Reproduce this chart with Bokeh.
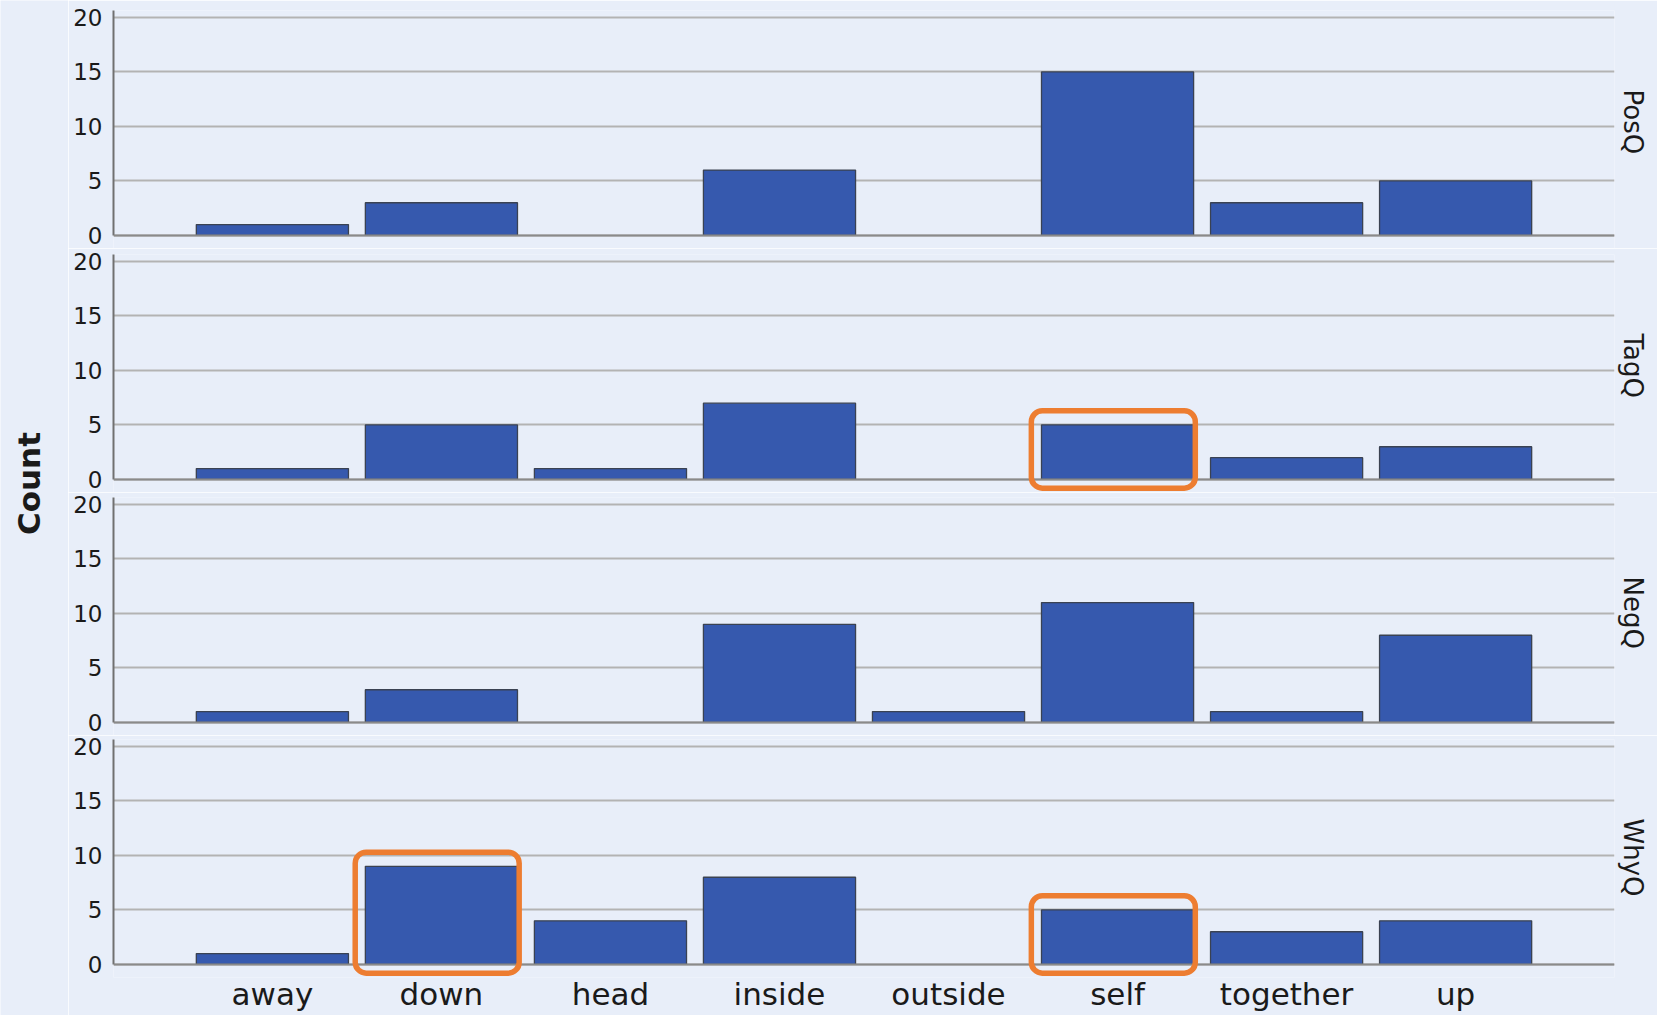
import math
from bokeh.plotting import figure
from bokeh.models import (FactorRange, Range1d, FixedTicker, Span,
                          BoxAnnotation, Title, ColumnDataSource)
from bokeh.layouts import column, row
from bokeh.embed import file_html
from bokeh.resources import INLINE
from bokeh.core.properties import value

# ---- data ----
categories = ["away", "down", "head", "inside", "outside", "self", "together", "up"]
panel_names = ["PosQ", "TagQ", "NegQ", "WhyQ"]
posq = [1, 3, 0, 6, 0, 15, 3, 5]
tagq = [1, 5, 1, 7, 0, 5, 2, 3]
negq = [1, 3, 0, 9, 1, 11, 1, 8]
whyq = [1, 9, 4, 8, 0, 5, 3, 4]
series = [posq, tagq, negq, whyq]
y_ticks = [0, 5, 10, 15, 20]
highlights = [("TagQ", "self"), ("WhyQ", "down"), ("WhyQ", "self")]
y_label = "Count"

# ---- style ----
BG = "#E8EEF9"
BAR = "#3659AE"
BAR_LINE = "#3a4252"
GRID = "#B3B3B3"
AXIS = "#707070"
ORANGE = "#ED7D31"
TEXT = "#1a1a1a"
FONT = "DejaVu Sans"

border_tops = [10, 6, 5, 4]
panels = []
n = len(panel_names)
for i, (name, counts) in enumerate(zip(panel_names, series)):
    last = (i == n - 1)
    p = figure(
        x_range=FactorRange(factors=categories, range_padding=0.44,
                            range_padding_units="absolute"),
        y_range=Range1d(-1.2, 20.64),
        frame_width=1501, frame_height=238,
        output_backend="svg", toolbar_location=None,
        x_axis_location="below" if last else None,
        background_fill_color=BG, border_fill_color=BG,
        outline_line_color=None,
        min_border_left=45, min_border_right=43,
        min_border_top=border_tops[i],
        min_border_bottom=(38 if last else 0),
    )
    cats_nz = [c for c, v in zip(categories, counts) if v > 0]
    vals_nz = [v for v in counts if v > 0]
    src = ColumnDataSource(dict(cat=cats_nz, count=vals_nz))
    p.vbar(x="cat", top="count", bottom=0, width=0.9, source=src,
           fill_color=BAR, line_color=BAR_LINE, line_width=1.3)

    p.add_layout(Span(location=0, dimension="width", line_color="#8a8a8a",
                      line_width=2))

    p.yaxis.ticker = FixedTicker(ticks=y_ticks)
    p.yaxis.bounds = (0, 20.64)
    p.yaxis.axis_line_color = AXIS
    p.yaxis.axis_line_width = 2
    p.yaxis.major_tick_line_color = None
    p.yaxis.minor_tick_line_color = None
    p.yaxis.major_label_text_font_size = "23px"
    p.yaxis.major_label_text_font = FONT
    p.yaxis.major_label_text_color = TEXT
    p.yaxis.major_label_standoff = 5

    p.ygrid.ticker = FixedTicker(ticks=y_ticks)
    p.ygrid.grid_line_color = GRID
    p.ygrid.grid_line_width = 2
    p.xgrid.grid_line_color = None

    if last:
        p.xaxis.axis_line_color = None
        p.xaxis.major_tick_line_color = None
        p.xaxis.minor_tick_line_color = None
        p.xaxis.major_label_text_font_size = "31px"
        p.xaxis.major_label_text_font = FONT
        p.xaxis.major_label_text_color = TEXT
        p.xaxis.major_label_standoff = -8

    p.add_layout(Title(text=name, text_font_size="26px", text_font=FONT,
                       text_font_style="normal", text_color=TEXT,
                       align="left", standoff=6, offset=79), "right")

    for pname, cat in highlights:
        if pname == name:
            idx = categories.index(cat)
            v = counts[idx]
            p.add_layout(BoxAnnotation(
                left=idx + 0.5 - 0.51, right=idx + 0.5 + 0.46,
                bottom=-0.8, top=v + 1.3,
                fill_alpha=0, line_color=ORANGE, line_alpha=1.0,
                line_width=5.5, border_radius=11, level="overlay"))
    panels.append(p)

cf = figure(width=68, height=1015, x_range=Range1d(0, 68), y_range=Range1d(0, 1015),
            output_backend="svg", toolbar_location=None,
            x_axis_location=None, y_axis_location=None, min_border=0,
            outline_line_color=None, background_fill_color=BG,
            border_fill_color=BG)
cf.grid.visible = False
cf.text(x=[28], y=[532], text=[y_label], angle=math.pi / 2,
        text_align="center", text_baseline="middle",
        text_font=value(FONT), text_font_style="bold",
        text_font_size="31px", text_color=TEXT)

layout = row(cf, column(*panels, spacing=0), spacing=0)
open("out.html", "w").write(file_html(layout, INLINE, "Count by panel"))
